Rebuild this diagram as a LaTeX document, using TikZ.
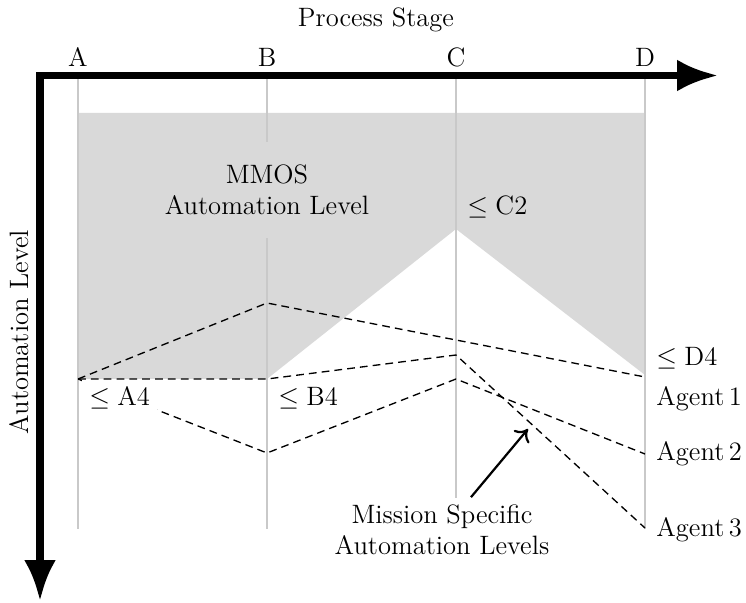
\documentclass[tikz,border=0pt]{standalone}
\usetikzlibrary{arrows.meta}

\begin{document}
\begin{tikzpicture}[
    x=0.015873cm, y=-0.015873cm,
    font=\large,
    shade/.style={fill=black!15},
    stageline/.style={draw=black!21, line width=0.8pt},
    level/.style={draw=black, line width=0.6pt, dash pattern=on 3.5pt off 2.3pt},
    axis/.style={line width=3.2pt, line join=miter,
                 {Latex[length=18.5pt,width=14.4pt]}-{Latex[length=18.5pt,width=14.4pt]}},
    lvl/.style={anchor=base west, inner sep=3.33pt},
    agent/.style={anchor=base west, inner sep=3.33pt},
    stage/.style={anchor=base, inner sep=0pt},
  ]
  \useasboundingbox (0,0) rectangle (746,603);

  % stage positions along the process axis
  \coordinate (sA) at (78,75);
  \coordinate (sB) at (267,75);
  \coordinate (sC) at (456,75);
  \coordinate (sD) at (645,75);

  % admissible MMOS automation region
  \path[shade] (78,113) -- (645,113) -- (645,375) -- (456,229)
               -- (267,379) -- (78,379) -- cycle;

  % stage guide lines
  \foreach \s in {sA,sB,sC,sD}
    \draw[stageline] (\s) -- ++(0,454);

  % label inside the shaded region (its fill hides the B guide line)
  \node[align=center, shade, inner xsep=3.33pt, inner ysep=10.5pt]
    (mmos) at (267,190) {MMOS\\Automation Level};

  % automation levels chosen per stage
  \coordinate (a4) at (78,379);
  \coordinate (ag1b) at (267,303);
  \coordinate (ag1d) at (645,377);
  \coordinate (ag2b) at (267,453);
  \coordinate (ag2c) at (456,379);
  \coordinate (ag2d) at (645,454);
  \coordinate (b4)   at (267,379);
  \coordinate (ag3c) at (456,355);
  \coordinate (ag3d) at (645,528);

  \draw[level] (a4) -- (ag1b) -- (ag1d);
  \draw[level] (a4) -- (ag2b) -- (ag2c) -- (ag2d);
  \draw[level] (a4) -- (b4) -- (ag3c) -- (ag3d);

  % upper bounds per stage
  \node[lvl, fill=white] (la4) at (81.6,406) {$\leq\mathrm{A4}$};
  \node[lvl] (lb4) at (270.6,406) {$\leq\mathrm{B4}$};
  \node[lvl] (lc2) at (459.6,215) {$\leq\mathrm{C2}$};
  \node[lvl] (ld4) at (648.6,366) {$\leq\mathrm{D4}$};

  % agent names
  \node[agent] (agent1) at (648.6,406) {Agent\,1};
  \node[agent] (agent2) at (648.6,461) {Agent\,2};
  \node[agent] (agent3) at (648.6,537) {Agent\,3};

  % annotation of the dashed paths
  \node[align=center, fill=white, inner sep=3.33pt] (mission) at (442,530)
    {Mission Specific\\Automation Levels};
  \coordinate (missionTip) at (528,429);
  \draw[-{To[length=5pt,width=9pt]}, line width=1pt]
    ([xshift=0.46cm]mission.north) -- (missionTip);

  % axes
  \coordinate (origin) at (40,75.5);
  \coordinate (xend) at (718,75.5);
  \coordinate (yend) at (40,601);
  \draw[axis] (yend) -- (origin) -- (xend);

  % axis titles and stage names
  \node[stage] (xtitle) at (376,27) {Process Stage};
  \node[rotate=90] (ytitle) at (19,332) {Automation Level};
  \node[stage] (tA) at (78,67) {A};
  \node[stage] (tB) at (267,67) {B};
  \node[stage] (tC) at (456,67) {C};
  \node[stage] (tD) at (645,67) {D};
\end{tikzpicture}
\end{document}
